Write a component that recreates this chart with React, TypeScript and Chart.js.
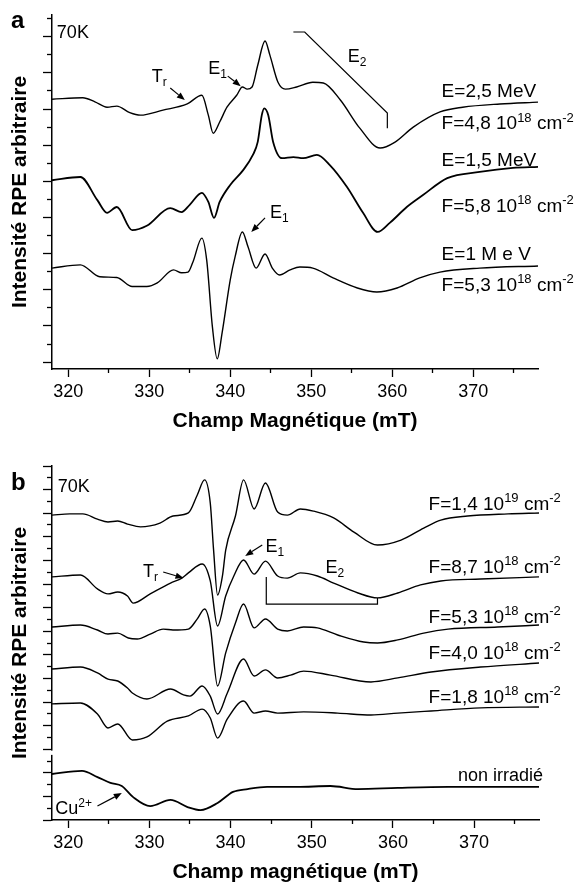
import React, { useEffect, useRef } from 'react';
import { Chart, registerables } from 'chart.js';
Chart.register(...registerables);

const FONT = "'Liberation Sans', Arial, Helvetica, sans-serif";

// ---------- shared axis values ----------
const FIELD_MIN = 318;
const FIELD_MAX = 378;
const xMajorTicks = [320, 330, 340, 350, 360, 370];
const xMinorTicks = [325, 335, 345, 355, 365, 375];

// ---------- panel a (70K, different energies) ----------
const yMinA = -0.19;
const yMaxA = 9.6;
const yMajorA = [0, 1, 2, 3, 4, 5, 6, 7, 8, 9];
const yMinorA = [0.5, 1.5, 2.5, 3.5, 4.5, 5.5, 6.5, 7.5, 8.5, 9.5];

// E = 2,5 MeV
const fieldA1 = [318.0, 321.8, 323.3, 324.8, 326.0, 327.6, 328.9, 331.7, 334.7, 336.5, 337.3, 337.9, 338.7, 339.6, 340.8, 341.5, 342.1, 342.7, 343.4, 344.3, 344.9, 345.9, 346.8, 348.2, 350.2, 351.5, 353.6, 356.0, 358.5, 360.3, 362.6, 365.9, 368.7, 373.3, 378.0];
const intA1 = [7.27, 7.31, 7.20, 7.05, 7.08, 6.90, 6.83, 6.97, 7.14, 7.38, 6.83, 6.33, 6.64, 7.05, 7.38, 7.61, 7.55, 7.61, 8.21, 8.88, 8.49, 7.74, 7.55, 7.61, 7.74, 7.72, 7.25, 6.47, 5.92, 6.08, 6.50, 6.92, 7.05, 7.14, 7.19];
// E = 1,5 MeV
const fieldA2 = [318.0, 321.5, 323.6, 324.8, 326.0, 327.9, 329.7, 332.6, 334.0, 335.0, 336.5, 337.3, 338.0, 338.7, 340.0, 341.6, 342.8, 343.4, 343.9, 344.2, 344.7, 345.3, 346.4, 347.8, 349.0, 350.7, 352.3, 354.4, 356.4, 358.2, 359.7, 361.8, 363.8, 366.8, 370.8, 374.9, 378.0];
const intA2 = [5.03, 5.12, 4.48, 4.13, 4.29, 3.65, 3.77, 4.26, 4.15, 4.35, 4.68, 4.43, 3.99, 4.43, 4.90, 5.31, 5.73, 6.09, 6.83, 7.02, 6.83, 6.09, 5.64, 5.67, 5.64, 5.73, 5.45, 4.85, 4.13, 3.60, 3.85, 4.29, 4.62, 5.09, 5.26, 5.37, 5.40];
// E = 1 MeV
const fieldA3 = [318.0, 321.5, 323.9, 326.0, 327.9, 329.7, 331.0, 333.0, 334.0, 334.8, 335.4, 336.5, 337.1, 337.8, 338.4, 339.0, 340.0, 340.6, 341.5, 342.2, 343.2, 344.3, 345.2, 346.1, 347.4, 348.6, 350.2, 352.7, 355.7, 358.1, 360.6, 363.4, 365.9, 370.8, 378.0];
const intA3 = [2.60, 2.69, 2.36, 2.34, 2.09, 2.09, 2.19, 2.55, 2.47, 2.49, 2.77, 3.43, 2.82, 0.98, 0.09, 0.81, 2.27, 2.91, 3.60, 3.19, 2.60, 2.99, 2.60, 2.41, 2.55, 2.63, 2.60, 2.33, 2.05, 1.94, 2.05, 2.33, 2.49, 2.60, 2.66];

// ---------- panel b (70K, different fluences) ----------
const yMinB = 0;
const yMaxB = 15;
const yMajorB = [0, 1, 2, 3, 4, 5, 6, 7, 8, 9, 10, 11, 12, 13, 14, 15];
const yMinorB = [0.5, 1.5, 2.5, 3.5, 4.5, 5.5, 6.5, 7.5, 8.5, 9.5, 10.5, 11.5, 12.5, 13.5, 14.5];

// F = 1,4 10^19
const fieldB1 = [318.0, 320.2, 321.8, 323.6, 324.9, 326.1, 327.3, 328.9, 331.3, 332.9, 334.8, 335.9, 336.8, 337.5, 337.9, 338.4, 339.0, 339.4, 340.6, 341.6, 342.9, 344.3, 345.8, 347.0, 348.6, 350.2, 352.7, 355.2, 358.1, 361.0, 363.8, 365.9, 369.2, 374.2, 378.0];
const intB1 = [12.92, 12.97, 12.97, 12.75, 12.63, 12.67, 12.54, 12.42, 12.58, 12.88, 13.01, 13.77, 14.41, 13.43, 11.48, 9.53, 10.34, 11.44, 12.88, 14.41, 13.18, 14.28, 13.05, 12.92, 13.18, 13.09, 12.80, 12.20, 11.65, 11.86, 12.37, 12.71, 12.88, 12.97, 13.01];
// F = 8,7 10^18
const fieldB2 = [318.0, 321.5, 323.6, 324.9, 326.1, 327.3, 328.0, 330.1, 332.6, 334.0, 334.8, 336.5, 337.5, 338.4, 339.4, 340.4, 341.6, 342.9, 344.3, 345.8, 347.0, 348.6, 350.7, 352.7, 355.7, 358.1, 360.6, 363.4, 365.9, 370.8, 378.0];
const intB2 = [10.30, 10.38, 9.79, 9.58, 9.66, 9.49, 9.19, 9.58, 10.04, 10.25, 10.47, 10.85, 10.13, 8.22, 9.49, 10.34, 11.02, 10.42, 10.97, 10.34, 10.25, 10.47, 10.34, 10.04, 9.62, 9.41, 9.62, 9.96, 10.13, 10.21, 10.30];
// F = 5,3 10^18
const fieldB3 = [318.0, 321.5, 323.6, 324.9, 326.1, 327.4, 328.5, 330.1, 331.7, 332.9, 334.8, 335.9, 336.8, 337.5, 338.4, 339.4, 340.6, 341.6, 342.9, 344.3, 345.8, 347.0, 349.0, 350.7, 353.2, 356.4, 358.1, 360.6, 363.8, 366.8, 372.9, 378.0];
const intB3 = [8.18, 8.26, 8.05, 7.88, 7.92, 7.71, 7.67, 7.88, 8.09, 8.05, 8.09, 8.52, 8.94, 8.22, 5.68, 7.08, 8.35, 9.15, 8.14, 8.52, 8.09, 8.01, 8.18, 8.14, 7.84, 7.54, 7.50, 7.63, 7.92, 8.09, 8.18, 8.26];
// F = 4,0 10^18
const fieldB4 = [318.0, 321.5, 323.6, 324.9, 326.1, 327.3, 327.9, 329.7, 332.6, 334.2, 335.0, 336.5, 337.5, 338.4, 339.6, 341.6, 342.9, 344.3, 345.8, 347.4, 349.0, 352.3, 357.3, 360.6, 364.7, 370.8, 378.0];
const intB4 = [6.40, 6.48, 6.23, 5.97, 5.89, 5.59, 5.38, 5.13, 5.55, 5.30, 5.25, 5.68, 5.25, 4.49, 5.38, 6.82, 6.10, 6.36, 6.02, 6.14, 6.31, 6.14, 5.85, 6.02, 6.27, 6.48, 6.65];
// F = 1,8 10^18
const fieldB5 = [318.0, 321.5, 323.6, 324.9, 326.1, 327.9, 329.7, 332.2, 334.8, 336.5, 337.5, 338.4, 339.6, 341.6, 342.9, 344.3, 345.8, 349.0, 353.2, 357.3, 360.6, 364.7, 370.8, 378.0];
const intB5 = [4.92, 4.96, 4.49, 3.90, 4.07, 3.39, 3.52, 4.19, 4.41, 4.70, 4.32, 3.47, 4.28, 5.04, 4.53, 4.62, 4.53, 4.58, 4.53, 4.45, 4.53, 4.62, 4.75, 4.79];
// non irradié
const fieldB6 = [318.0, 321.7, 323.6, 325.2, 326.6, 328.0, 330.1, 332.6, 334.7, 336.3, 338.4, 340.3, 342.1, 344.5, 348.2, 352.3, 355.7, 360.6, 366.8, 378.0];
const intB6 = [1.95, 2.08, 1.82, 1.57, 1.44, 0.97, 0.59, 0.85, 0.55, 0.42, 0.72, 1.19, 1.31, 1.40, 1.40, 1.44, 1.31, 1.36, 1.40, 1.40];

// ---------- helpers ----------
type Part = { t: string; s?: 'sup' | 'sub' };
type TextAnn = { x: number; y: number; parts: Part[]; size: number; align?: 'left' | 'right' };
type PanelAnn = {
  letter: { t: string; x: number; y: number };
  texts: TextAnn[];
  arrows: number[][];
  lines: number[][][];
  gap?: [number, number];
};

const sup = (t: string): Part => ({ t, s: 'sup' });
const sub = (t: string): Part => ({ t, s: 'sub' });
const fl = (a: string, e: string): Part[] => [{ t: 'F=' + a + ' 10' }, sup(e), { t: ' cm' }, sup('-2')];

function drawParts(ctx: CanvasRenderingContext2D, parts: Part[], x: number, y: number, size: number, align = 'left') {
  const small = Math.round(size * 0.68);
  let total = 0;
  for (const p of parts) {
    ctx.font = `${p.s ? small : size}px ${FONT}`;
    total += ctx.measureText(p.t).width;
  }
  let cx = align === 'right' ? x - total : x;
  for (const p of parts) {
    ctx.font = `${p.s ? small : size}px ${FONT}`;
    const dy = p.s === 'sup' ? -size * 0.4 : p.s === 'sub' ? size * 0.22 : 0;
    ctx.fillText(p.t, cx, y + dy);
    cx += ctx.measureText(p.t).width;
  }
}

function drawArrow(ctx: CanvasRenderingContext2D, x1: number, y1: number, x2: number, y2: number) {
  const ang = Math.atan2(y2 - y1, x2 - x1);
  const hl = 8, hw = 3.2;
  const bx = x2 - hl * Math.cos(ang), by = y2 - hl * Math.sin(ang);
  ctx.beginPath();
  ctx.moveTo(x1, y1);
  ctx.lineTo(bx, by);
  ctx.lineWidth = 1.2;
  ctx.stroke();
  ctx.beginPath();
  ctx.moveTo(x2, y2);
  ctx.lineTo(bx + hw * Math.sin(ang), by - hw * Math.cos(ang));
  ctx.lineTo(bx - hw * Math.sin(ang), by + hw * Math.cos(ang));
  ctx.closePath();
  ctx.fill();
}

function annotationPlugin(ann: PanelAnn) {
  return {
    id: 'epr-annotations',
    afterDraw(chart: any) {
      const ctx: CanvasRenderingContext2D = chart.ctx;
      const sx = chart.scales.x, sy = chart.scales.y;
      const X = (v: number) => sx.getPixelForValue(v);
      const Y = (v: number) => sy.getPixelForValue(v);
      ctx.save();
      ctx.fillStyle = '#000';
      ctx.strokeStyle = '#000';
      ctx.textBaseline = 'alphabetic';
      ctx.textAlign = 'left';
      if (ann.gap) {
        const top = Y(ann.gap[1]), bot = Y(ann.gap[0]);
        ctx.fillStyle = '#fff';
        ctx.fillRect(chart.chartArea.left - 1.5, top, 3, bot - top);
        ctx.fillStyle = '#000';
      }
      ctx.font = `bold 24px ${FONT}`;
      ctx.fillText(ann.letter.t, ann.letter.x, ann.letter.y);
      for (const t of ann.texts) drawParts(ctx, t.parts, X(t.x), Y(t.y), t.size, t.align || 'left');
      for (const a of ann.arrows) drawArrow(ctx, X(a[0]), Y(a[1]), X(a[2]), Y(a[3]));
      ctx.lineWidth = 1.2;
      for (const l of ann.lines) {
        ctx.beginPath();
        l.forEach((p, i) => (i === 0 ? ctx.moveTo(X(p[0]), Y(p[1])) : ctx.lineTo(X(p[0]), Y(p[1]))));
        ctx.stroke();
      }
      ctx.restore();
    },
  };
}

function series(field: number[], values: number[], width: number) {
  return {
    data: field.map((x, i) => ({ x, y: values[i] })),
    borderColor: '#000',
    borderWidth: width,
    pointRadius: 0,
    fill: false,
    cubicInterpolationMode: 'monotone',
    xAxisID: 'x',
    yAxisID: 'y',
  };
}

type PanelCfg = {
  yMin: number; yMax: number; yMajor: number[]; yMinor: number[];
  xTitle: string; padTop: number; padRight: number;
};

function buildOptions(p: PanelCfg) {
  const tickFont = { family: FONT, size: 18 };
  const titleFont = { family: FONT, size: 21, weight: 'bold' as const };
  return {
    animation: false,
    responsive: false,
    devicePixelRatio: 1,
    events: [],
    layout: { padding: { left: 0, right: p.padRight, top: p.padTop, bottom: 0 } },
    plugins: { legend: { display: false }, tooltip: { enabled: false }, title: { display: false } },
    scales: {
      x: {
        type: 'linear', position: 'bottom', min: FIELD_MIN, max: FIELD_MAX, weight: 1,
        afterBuildTicks: (s: any) => { s.ticks = xMajorTicks.map((v) => ({ value: v })); },
        afterFit: (s: any) => { s.height = 65; },
        ticks: { font: tickFont, color: '#000', padding: 4, maxRotation: 0, autoSkip: false },
        grid: { drawOnChartArea: false, drawTicks: true, tickLength: 8, tickWidth: 1.3, tickColor: '#000' },
        border: { display: true, color: '#000', width: 1.5 },
        title: { display: true, text: p.xTitle, font: titleFont, color: '#000', padding: { top: 0, bottom: 0 } },
      },
      xMinor: {
        type: 'linear', position: 'bottom', min: FIELD_MIN, max: FIELD_MAX, weight: 0,
        afterBuildTicks: (s: any) => { s.ticks = xMinorTicks.map((v) => ({ value: v })); },
        afterFit: (s: any) => { s.height = 0; },
        ticks: { display: false },
        grid: { drawOnChartArea: false, drawTicks: true, tickLength: 4, tickWidth: 1.3, tickColor: '#000' },
        border: { display: false },
      },
      y: {
        type: 'linear', position: 'left', min: p.yMin, max: p.yMax, weight: 1,
        afterBuildTicks: (s: any) => { s.ticks = p.yMajor.map((v) => ({ value: v })); },
        afterFit: (s: any) => { s.width = 52; },
        ticks: { display: false },
        grid: { drawOnChartArea: false, drawTicks: true, tickLength: 9, tickWidth: 1.3, tickColor: '#000' },
        border: { display: true, color: '#000', width: 1.5 },
        title: { display: true, text: 'Intensité RPE arbitraire', font: titleFont, color: '#000', padding: { top: 8, bottom: 0 } },
      },
      yMinor: {
        type: 'linear', position: 'left', min: p.yMin, max: p.yMax, weight: 0,
        afterBuildTicks: (s: any) => { s.ticks = p.yMinor.map((v) => ({ value: v })); },
        afterFit: (s: any) => { s.width = 0; },
        ticks: { display: false },
        grid: { drawOnChartArea: false, drawTicks: true, tickLength: 5, tickWidth: 1.3, tickColor: '#000' },
        border: { display: false },
      },
    },
  };
}

const annA: PanelAnn = {
  letter: { t: 'a', x: 11, y: 28 },
  texts: [
    { x: 318.6, y: 8.96, parts: [{ t: '70K' }], size: 18 },
    { x: 330.3, y: 7.74, parts: [{ t: 'T' }, sub('r')], size: 18 },
    { x: 337.3, y: 7.96, parts: [{ t: 'E' }, sub('1')], size: 18 },
    { x: 354.5, y: 8.29, parts: [{ t: 'E' }, sub('2')], size: 18 },
    { x: 344.9, y: 3.98, parts: [{ t: 'E' }, sub('1')], size: 18 },
    { x: 366.1, y: 7.33, parts: [{ t: 'E=2,5 MeV' }], size: 19 },
    { x: 366.1, y: 6.44, parts: fl('4,8', '18'), size: 19 },
    { x: 366.1, y: 5.42, parts: [{ t: 'E=1,5 MeV' }], size: 19 },
    { x: 366.1, y: 4.15, parts: fl('5,8', '18'), size: 19 },
    { x: 366.1, y: 2.83, parts: [{ t: 'E=1 M e V' }], size: 19 },
    { x: 366.1, y: 1.98, parts: fl('5,3', '18'), size: 19 },
  ],
  arrows: [
    [332.6, 7.58, 334.4, 7.25],
    [339.7, 7.91, 341.3, 7.63],
    [344.3, 3.99, 342.6, 3.60],
  ],
  lines: [[[347.8, 9.13], [349.2, 9.13], [359.4, 6.89], [359.4, 6.47]]],
};

const annB: PanelAnn = {
  letter: { t: 'b', x: 11, y: 47 },
  texts: [
    { x: 318.7, y: 13.9, parts: [{ t: '70K' }], size: 18 },
    { x: 329.2, y: 10.3, parts: [{ t: 'T' }, sub('r')], size: 18 },
    { x: 344.3, y: 11.37, parts: [{ t: 'E' }, sub('1')], size: 18 },
    { x: 351.7, y: 10.47, parts: [{ t: 'E' }, sub('2')], size: 18 },
    { x: 364.4, y: 13.14, parts: fl('1,4', '19'), size: 19 },
    { x: 364.4, y: 10.47, parts: fl('8,7', '18'), size: 19 },
    { x: 364.4, y: 8.35, parts: fl('5,3', '18'), size: 19 },
    { x: 364.4, y: 6.82, parts: fl('4,0', '18'), size: 19 },
    { x: 364.4, y: 4.96, parts: fl('1,8', '18'), size: 19 },
    { x: 378.5, y: 1.65, parts: [{ t: 'non irradié' }], size: 18, align: 'right' },
    { x: 318.4, y: 0.25, parts: [{ t: 'Cu' }, sup('2+')], size: 18 },
  ],
  arrows: [
    [331.7, 10.51, 334.2, 10.25],
    [343.9, 11.65, 341.8, 11.19],
    [323.6, 0.59, 326.6, 1.14],
  ],
  lines: [[[344.4, 10.3], [344.4, 9.15], [358.1, 9.15], [358.1, 9.41]]],
  gap: [2.76, 2.94],
};

function Panel(props: { width: number; height: number; top: number; build: () => any }) {
  const ref = useRef<HTMLCanvasElement>(null);
  useEffect(() => {
    if (!ref.current) return;
    const chart = new Chart(ref.current, props.build());
    return () => chart.destroy();
  }, []);
  return (
    <canvas
      ref={ref}
      width={props.width}
      height={props.height}
      style={{ position: 'absolute', left: 0, top: props.top, width: props.width, height: props.height }}
    />
  );
}

export default function App() {
  const buildA = () => ({
    type: 'line',
    data: {
      datasets: [series(fieldA1, intA1, 1.4), series(fieldA2, intA2, 1.8), series(fieldA3, intA3, 1.4)],
    },
    options: buildOptions({ yMin: yMinA, yMax: yMaxA, yMajor: yMajorA, yMinor: yMinorA, xTitle: 'Champ Magnétique (mT)', padTop: 15, padRight: 38 }),
    plugins: [annotationPlugin(annA)],
  });
  const buildB = () => ({
    type: 'line',
    data: {
      datasets: [
        series(fieldB1, intB1, 1.4), series(fieldB2, intB2, 1.4), series(fieldB3, intB3, 1.4),
        series(fieldB4, intB4, 1.4), series(fieldB5, intB5, 1.4), series(fieldB6, intB6, 1.8),
      ],
    },
    options: buildOptions({ yMin: yMinB, yMax: yMaxB, yMajor: yMajorB, yMinor: yMinorB, xTitle: 'Champ magnétique (mT)', padTop: 23, padRight: 37 }),
    plugins: [annotationPlugin(annB)],
  });
  return (
    <div style={{ position: 'absolute', left: 0, top: 0, width: 576, height: 885, background: '#fff', overflow: 'hidden' }}>
      <Panel width={576} height={434} top={0} build={buildA} />
      <Panel width={576} height={442} top={443} build={buildB} />
    </div>
  );
}
